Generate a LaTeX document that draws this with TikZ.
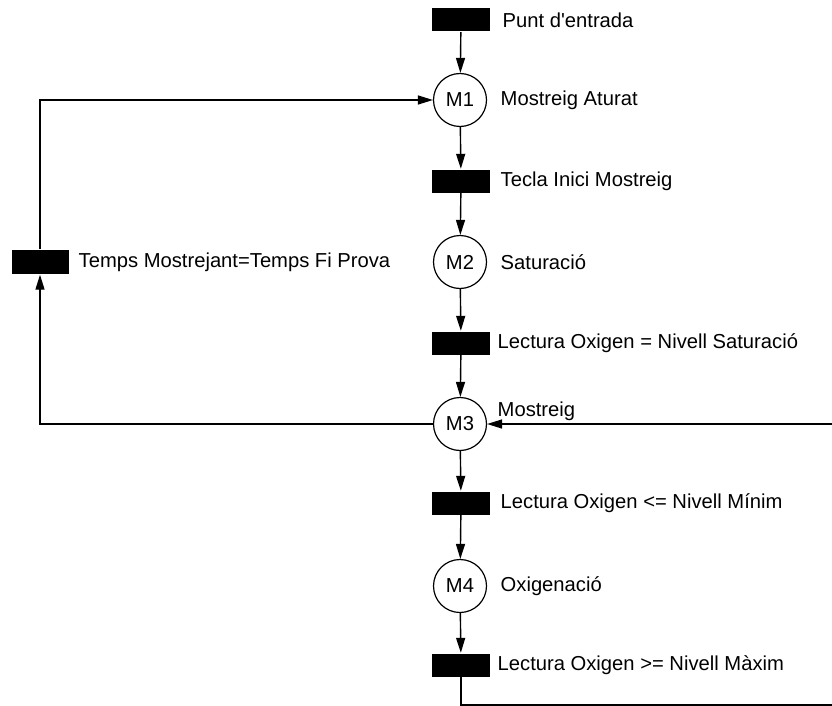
\documentclass[tikz,border=0pt]{standalone}
\usepackage{fontspec}
\setmainfont{Liberation Sans}
\usetikzlibrary{arrows.meta}
\begin{document}
\begin{tikzpicture}[x=1pt,y=-1pt,
  font=\fontsize{20.2}{23}\selectfont,
  line width=1.4pt,
  flow/.style={-{Triangle[length=15pt,width=9pt]}},
  place/.style={circle,draw,line width=1.2pt,minimum size=53pt,inner sep=0pt},
  trans/.style={rectangle,fill=black,minimum width=58pt,minimum height=23pt,inner sep=0pt},
  lbl/.style={anchor=west,inner sep=0pt}]
\useasboundingbox (0,0) rectangle (832,706);

% steps and transitions of the main column
\node[trans] (t0) at (461,20) {};
\node[place] (m1) at (460,100) {M1};
\node[trans] (t1) at (461,181) {};
\node[place] (m2) at (460,262) {M2};
\node[trans] (t2) at (461,343) {};
\node[place] (m3) at (460,424) {M3};
\node[trans] (t3) at (461,503) {};
\node[place] (m4) at (460,586) {M4};
\node[trans] (t4) at (461,665) {};
% return transition on the left
\node[trans,minimum width=57pt,minimum height=24pt] (tl) at (40,262) {};

% labels
\node[lbl] (l0) at (502,20) {Punt d\textquotesingle entrada};
\node[lbl] (l1) at (500,100) {Mostreig Aturat};
\node[lbl] (l2) at (500,181) {Tecla Inici Mostreig};
\node[lbl] (l3) at (500,262) {Saturació};
\node[lbl] (l4) at (497,343) {Lectura Oxigen = Nivell Saturació};
\node[lbl,anchor=base west] (l5) at (497,416) {Mostreig};
\node[lbl] (l6) at (500,503) {Lectura Oxigen <= Nivell Mínim};
\node[lbl] (l7) at (500,586) {Oxigenació};
\node[lbl] (l8) at (497,665) {Lectura Oxigen >= Nivell Màxim};
\node[lbl] (ll) at (78,262) {Temps Mostrejant=Temps Fi Prova};

% main flow
\draw[flow] (t0) -- (m1);
\draw[flow] (m1) -- (t1);
\draw[flow] (t1) -- (m2);
\draw[flow] (m2) -- (t2);
\draw[flow] (t2) -- (m3);
\draw[flow] (m3) -- (t3);
\draw[flow] (t3) -- (m4);
\draw[flow] (m4) -- (t4);

% loop back from the last transition into M3, closing past the right edge
\coordinate (b1) at (t4 |- 0,705);
\coordinate (b2) at (836,705);
\coordinate (b3) at (836,424);
\draw[flow] (t4) -- (b1) -- (b2) -- (b3) -- (m3);

% loop from M3 back to M1 through the left transition
\coordinate (c1) at (tl |- m3);
\coordinate (c2) at (tl |- m1);
\draw[flow] (m3) -- (c1) -- (tl);
\draw[flow] (tl) -- (c2) -- (m1);
\end{tikzpicture}
\end{document}
